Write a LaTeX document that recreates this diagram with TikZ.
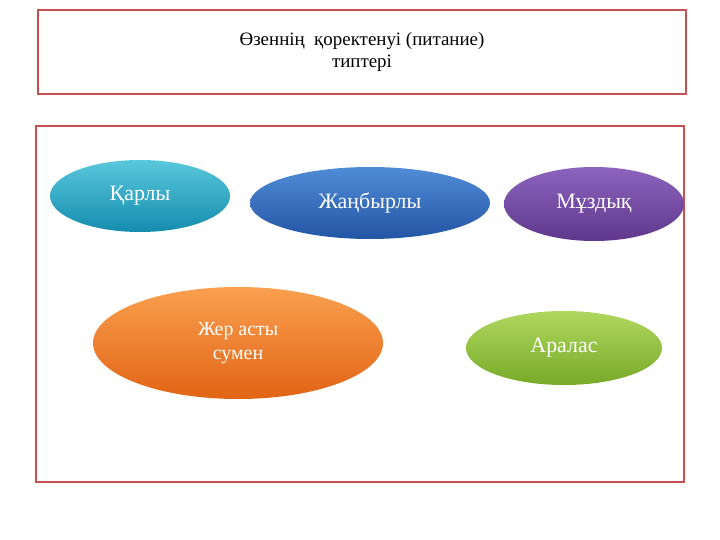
\documentclass[tikz,border=0pt]{standalone}
\usepackage{fontspec}
\setmainfont{Liberation Serif}
\usetikzlibrary{shapes.geometric}
\begin{document}
\begin{tikzpicture}[x=1bp,y=-1bp,
  frame/.style={draw={rgb,255:red,200;green,80;blue,80},line width=1.2pt},
  ell/.style={ellipse,inner sep=0pt,text=white,font=\fontsize{22}{26}\selectfont,align=center},
  ttl/.style={align=center,font=\fontsize{19}{22}\selectfont}]
\useasboundingbox (0,0) rectangle (720,540);
\definecolor{tealA}{RGB}{90,200,220}\definecolor{tealB}{RGB}{20,140,175}
\definecolor{blueA}{RGB}{80,140,215}\definecolor{blueB}{RGB}{35,85,165}
\definecolor{purA}{RGB}{140,100,190}\definecolor{purB}{RGB}{95,55,140}
\definecolor{orA}{RGB}{250,160,80}\definecolor{orB}{RGB}{225,100,20}
\definecolor{grA}{RGB}{175,215,95}\definecolor{grB}{RGB}{120,170,40}
\draw[frame] (38,10) rectangle (686,94);
\draw[frame] (36,126) rectangle (684,482);
\node[ttl] (t) at (362,52) {Өзеннің\ \ қоректенуі (питание)\\типтері};
\node[ell,minimum width=180bp,minimum height=72bp,top color=tealA,bottom color=tealB] (k) at (140,196) {Қарлы};
\node[ell,minimum width=240bp,minimum height=72bp,top color=blueA,bottom color=blueB] (zh) at (370,203) {Жаңбырлы};
\node[ell,minimum width=180bp,minimum height=74bp,top color=purA,bottom color=purB] (m) at (594,204) {Мұздық};
\node[ell,minimum width=290bp,minimum height=112bp,top color=orA,bottom color=orB,font=\fontsize{20}{24}\selectfont] (j) at (238,343) {Жер асты\\сумен};
\node[ell,minimum width=196bp,minimum height=74bp,top color=grA,bottom color=grB] (a) at (564,348) {Аралас};
\end{tikzpicture}
\end{document}
